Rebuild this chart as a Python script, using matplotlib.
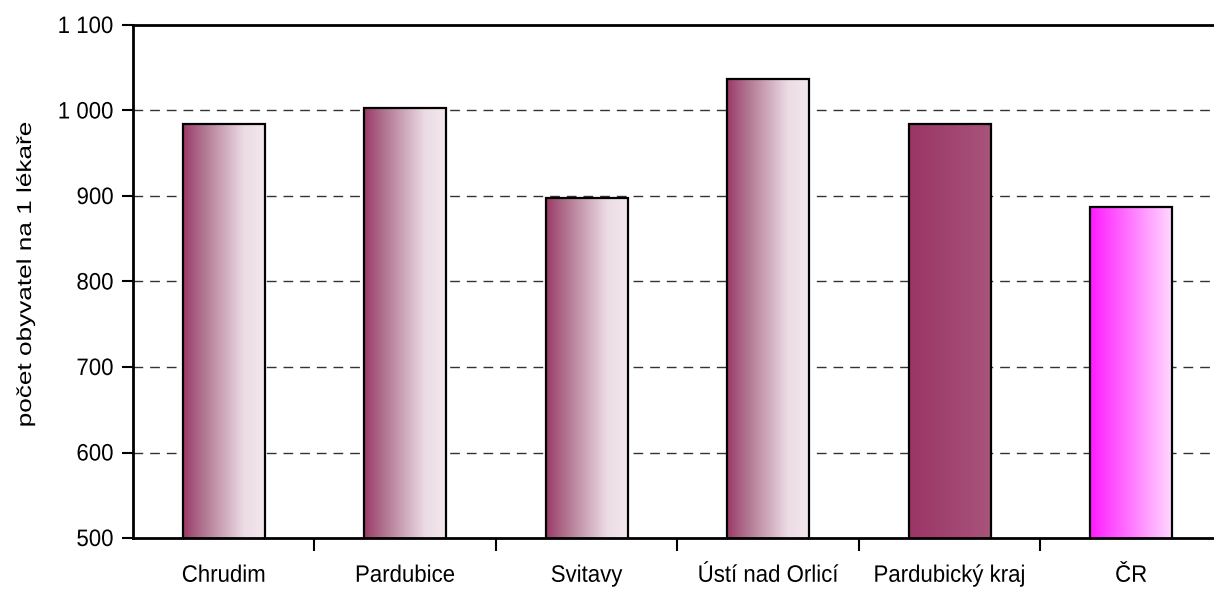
import numpy as np
import matplotlib.pyplot as plt
from matplotlib.colors import LinearSegmentedColormap
from matplotlib.ticker import FixedLocator, FuncFormatter
from matplotlib.patheffects import AbstractPathEffect
from matplotlib.transforms import Affine2D

plt.rcParams['font.family'] = ['Liberation Sans', 'DejaVu Sans']

# data
regions = ['Chrudim', 'Pardubice', 'Svitavy', 'Ústí nad Orlicí', 'Pardubický kraj', 'ČR']
values = [984, 1003, 898, 1037, 984, 887]

# gradient colours for each bar (left -> right)
grad_okres = ['#9b3a68', '#b17590', '#cfa9bb', '#ecdce4', '#f3e8ee']
grad_kraj = ['#9a3565', '#a8547b']
grad_cr = ['#ff1aff', '#ffd8ff']
bar_grads = [grad_okres] * 4 + [grad_kraj, grad_cr]


class Stretch(AbstractPathEffect):
    """Stretch text vertically (in pixels) around its anchor or a given y."""
    def __init__(self, sy, cy=None):
        super().__init__()
        self.sy = sy
        self.cy = cy

    def draw_path(self, renderer, gc, tpath, affine, rgbFace=None):
        ty = affine.get_matrix()[1, 2] if self.cy is None else self.cy
        a = affine + Affine2D().translate(0, -ty).scale(1, self.sy).translate(0, ty)
        renderer.draw_path(gc, tpath, a, rgbFace)


fig = plt.figure(figsize=(12.14, 5.92), dpi=100)
ax = fig.add_axes([133 / 1214, 1 - 538 / 592, 1 - 133 / 1214, (538 - 25) / 592])

x = np.arange(len(regions))
bars = ax.bar(x, values, width=0.45, bottom=0, facecolor='none',
              edgecolor='black', linewidth=1.6, zorder=3)

# fill each bar with a horizontal gradient clipped to the bar
for b, cols in zip(bars, bar_grads):
    cmap = LinearSegmentedColormap.from_list('g', cols)
    grad = np.linspace(0, 1, 256).reshape(1, -1)
    x0 = b.get_x()
    x1 = x0 + b.get_width()
    im = ax.imshow(grad, cmap=cmap, aspect='auto', interpolation='bicubic',
                   extent=(x0, x1, 500, b.get_height()), zorder=2)
    im.set_clip_path(b)

ax.set_xlim(-0.5, 5.456)
ax.set_ylim(500, 1100)

# y axis
ax.set_yticks(np.arange(500, 1101, 100))
ax.yaxis.set_major_formatter(FuncFormatter(lambda v, p: f'{int(v):,}'.replace(',', ' ')))
ax.tick_params(axis='y', direction='out', length=8, width=1.5, labelsize=16, pad=6)
for yv in range(600, 1100, 100):
    ax.axhline(yv, color='#333333', linewidth=1, dashes=(7, 5), zorder=1)

# x axis: labels at centres, ticks at category boundaries
ax.set_xticks(x)
ax.set_xticklabels(regions)
ax.tick_params(axis='x', which='major', length=0, labelsize=16, pad=20)
ax.xaxis.set_minor_locator(FixedLocator(np.arange(0.5, 5, 1)))
ax.tick_params(axis='x', which='minor', direction='out', length=9, width=1.5)

for lab in ax.get_xticklabels() + ax.get_yticklabels():
    lab.set_path_effects([Stretch(1.07)])

for s in ['left', 'bottom', 'top']:
    ax.spines[s].set_linewidth(2)
    ax.spines[s].set_zorder(4)
ax.spines['right'].set_visible(False)

ylab = ax.set_ylabel('počet obyvatel na 1 lékaře', fontsize=14.5)
ax.yaxis.set_label_coords(-0.0907, 0.5146)
ylab.set_path_effects([Stretch(1.3, cy=592 - 274)])

fig.savefig('out.png', dpi=100)
